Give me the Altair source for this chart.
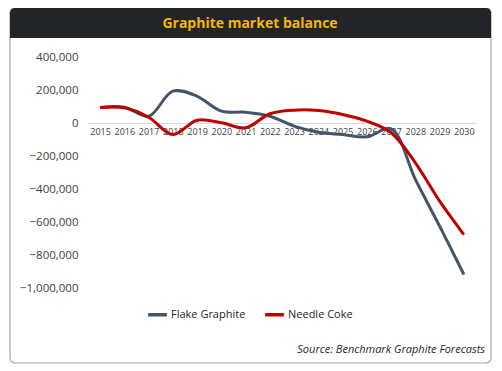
import altair as alt
import pandas as pd

years = [str(y) for y in range(2015, 2031)]
flake = [94000, 96000, 41000, 193000, 162000, 72000, 65000, 41000, -19000, -56000,
         -70000, -84000, -35000, -342000, -625000, -918000]
needle = [94000, 92000, 35000, -70000, 17000, 1000, -29000, 56000, 78000, 76000,
          52000, 11000, -59000, -241000, -474000, -676000]
series = ["Flake Graphite", "Needle Coke"]
colors = ["#44546A", "#C00000"]

df = pd.DataFrame({
    "year": years * 2,
    "value": flake + needle,
    "series": [series[0]] * len(years) + [series[1]] * len(years),
})

W, H = 388, 231
PL, PT = 80, 49
FONT = "Open Sans"

one = alt.Data(values=[{}])

box = alt.Chart(one).mark_rect(fill="white", fillOpacity=0, stroke="#A6A6A6",
                               strokeWidth=1.2, cornerRadius=5).encode(
    x=alt.value(-78), x2=alt.value(403), y=alt.value(-49), y2=alt.value(306))

bar = alt.Chart(one).mark_rect(fill="#232428", cornerRadiusTopLeft=5,
                               cornerRadiusTopRight=5).encode(
    x=alt.value(-78), x2=alt.value(403), y=alt.value(-49), y2=alt.value(-19))

title = alt.Chart(one).mark_text(text="Graphite market balance", font=FONT,
                                 fontSize=14, fontWeight="bold", color="#F5B700",
                                 align="center", baseline="middle").encode(
    x=alt.value(162), y=alt.value(-33))

source = alt.Chart(one).mark_text(text="Source: Benchmark  Graphite Forecasts",
                                  font=FONT, fontSize=11, fontStyle="italic",
                                  color="#262626", align="right",
                                  baseline="middle").encode(
    x=alt.value(397), y=alt.value(293))

lines = alt.Chart(df).mark_line(strokeWidth=3, interpolate="catmull-rom").encode(
    x=alt.X("year:N", sort=years, title=None,
            scale=alt.Scale(paddingInner=0, paddingOuter=0),
            axis=alt.Axis(orient="bottom", offset=-165, labelAngle=0, ticks=False,
                          domainColor="#D9D9D9", domainWidth=1.2, labelFont=FONT,
                          labelFontSize=9, labelColor="#404040", labelPadding=4)),
    y=alt.Y("value:Q", title=None,
            scale=alt.Scale(domain=[-1000000, 400000], nice=False),
            axis=alt.Axis(values=list(range(-1000000, 400001, 200000)),
                          format=",.0f",
                          grid=False, domain=False, ticks=False, labelFont=FONT,
                          labelFontSize=11.5, labelColor="#404040", labelPadding=10)),
    color=alt.Color("series:N", scale=alt.Scale(domain=series, range=colors),
                    sort=series,
                    legend=alt.Legend(title=None, orient="none", legendX=58,
                                      legendY=246, direction="horizontal",
                                      symbolType="stroke", symbolStrokeWidth=3.5,
                                      symbolSize=350, labelFont=FONT,
                                      labelFontSize=11, labelColor="#262626",
                                      columnPadding=12, labelOffset=2)),
)

chart = alt.layer(box, bar, title, source, lines).properties(
    width=W, height=H,
    padding={"left": PL, "top": PT, "right": 18, "bottom": 78},
    autosize=alt.AutoSizeParams(type="none"),
    background="white",
).configure_view(stroke=None)

chart.save("out.html", embed_options={"renderer": "svg", "actions": False})
